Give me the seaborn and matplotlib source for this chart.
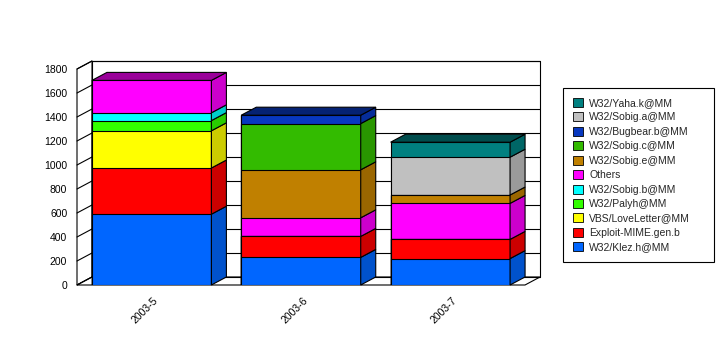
import matplotlib
matplotlib.use("Agg")
import numpy as np
import matplotlib.pyplot as plt
import matplotlib.colors as mcolors
from matplotlib.patches import Polygon, Patch
from matplotlib.transforms import ScaledTranslation
import seaborn as sns

# Data, stacked bottom -> top
months = ["2003-5", "2003-6", "2003-7"]
names = ["W32/Klez.h@MM", "Exploit-MIME.gen.b", "VBS/LoveLetter@MM", "W32/Palyh@MM",
         "W32/Sobig.b@MM", "Others", "W32/Sobig.e@MM", "W32/Sobig.c@MM",
         "W32/Bugbear.b@MM", "W32/Sobig.a@MM", "W32/Yaha.k@MM"]
klez = [590, 230, 220]
exploit = [385, 175, 160]
loveletter = [310, 0, 0]
palyh = [85, 0, 0]
sobig_b = [65, 0, 0]
others = [270, 155, 300]
sobig_e = [0, 400, 70]
sobig_c = [0, 385, 0]
bugbear = [0, 70, 0]
sobig_a = [0, 0, 315]
yaha = [0, 0, 125]
values = [klez, exploit, loveletter, palyh, sobig_b, others,
          sobig_e, sobig_c, bugbear, sobig_a, yaha]
colors = ["#0066FF", "#FF0000", "#FFFF00", "#33FF00", "#00FFFF", "#FF00FF",
          "#C08000", "#33BB00", "#0838C0", "#C0C0C0", "#008080"]
yticks = list(range(0, 1801, 200))

sns.set_style("white")
plt.rcParams["font.family"] = ["Liberation Sans", "DejaVu Sans"]

W, H = 721, 362
fig = plt.figure(figsize=(W / 100, H / 100), dpi=100)
left, right, top, bottom = 77, 525, 69, 285
ax = fig.add_axes([left / W, (H - bottom) / H, (right - left) / W, (bottom - top) / H])
ax.set_xlim(-0.5, 2.5)
ax.set_ylim(0, 1800)

# depth of the 3D look, in data units
dpx, dpy = 15, 8
dx = dpx * 3 / (right - left)
dy = dpy * 1800 / (bottom - top)

def shade(c, f):
    r, g, b = mcolors.to_rgb(c)
    return (r * f, g * f, b * f)

lw = 0.8
# back wall, left wall, floor
ax.add_patch(Polygon([(-0.5 + dx, dy), (2.5 + dx, dy), (2.5 + dx, 1800 + dy), (-0.5 + dx, 1800 + dy)],
                     closed=True, fc="white", ec="black", lw=lw, clip_on=False, zorder=0))
ax.add_patch(Polygon([(-0.5, 0), (-0.5 + dx, dy), (-0.5 + dx, 1800 + dy), (-0.5, 1800)],
                     closed=True, fc="white", ec="black", lw=lw, clip_on=False, zorder=0))
ax.add_patch(Polygon([(-0.5, 0), (2.5, 0), (2.5 + dx, dy), (-0.5 + dx, dy)],
                     closed=True, fc="white", ec="black", lw=lw, clip_on=False, zorder=0))
for v in yticks:
    ax.plot([-0.5 + dx, 2.5 + dx], [v + dy, v + dy], color="black", lw=lw, clip_on=False, zorder=1)
    ax.plot([-0.5, -0.5 + dx], [v, v + dy], color="black", lw=lw, clip_on=False, zorder=1)

# stacked bars: draw cumulative totals, largest first
cum = np.cumsum(np.array(values), axis=0)
for i in range(len(names) - 1, -1, -1):
    sns.barplot(x=months, y=cum[i], color=colors[i], saturation=1, width=0.8,
                edgecolor="black", linewidth=lw, ax=ax, zorder=3)

# side and top faces
for j in range(len(months)):
    xl, xr = j - 0.4, j + 0.4
    base = 0
    for i in range(len(names)):
        h = values[i][j]
        if h == 0:
            continue
        ax.add_patch(Polygon([(xr, base), (xr + dx, base + dy), (xr + dx, base + h + dy), (xr, base + h)],
                             closed=True, fc=shade(colors[i], 0.8), ec="black", lw=lw,
                             clip_on=False, zorder=3))
        base += h
        top_color = colors[i]
    ax.add_patch(Polygon([(xl, base), (xr, base), (xr + dx, base + dy), (xl + dx, base + dy)],
                         closed=True, fc=shade(top_color, 0.6), ec="black", lw=lw,
                         clip_on=False, zorder=3))

ax.set_xlim(-0.5, 2.5)
ax.set_ylim(0, 1800)
ax.set_yticks(yticks)
ax.set_xlabel("")
ax.set_ylabel("")
for s in ax.spines.values():
    s.set_visible(False)
ax.patch.set_visible(False)
ax.tick_params(axis="both", length=0, labelsize=7.5, colors="black")
ax.tick_params(axis="y", pad=7)
ax.tick_params(axis="x", pad=10)
for lab in ax.get_xticklabels():
    lab.set_rotation(45)
    lab.set_ha("right")
    lab.set_va("center")
    lab.set_rotation_mode("anchor")
    lab.set_transform(lab.get_transform() + ScaledTranslation(5 / 100, 0, fig.dpi_scale_trans))

handles = [Patch(fc=colors[i], ec="black", lw=0.6) for i in range(len(names) - 1, -1, -1)]
labels = names[::-1]
leg = fig.legend(handles, labels, loc="upper left", mode="expand",
                 bbox_to_anchor=(563 / W, 1 - 265 / H, (714 - 563) / W, (265 - 88) / H),
                 fontsize=7.5, frameon=True, fancybox=False, framealpha=1, borderaxespad=0,
                 handlelength=0.95, handleheight=0.95, handletextpad=0.6, labelspacing=0.42,
                 borderpad=0.95)
leg.get_frame().set_edgecolor("black")
leg.get_frame().set_linewidth(0.8)

fig.savefig("out.png", dpi=100, facecolor="white")
